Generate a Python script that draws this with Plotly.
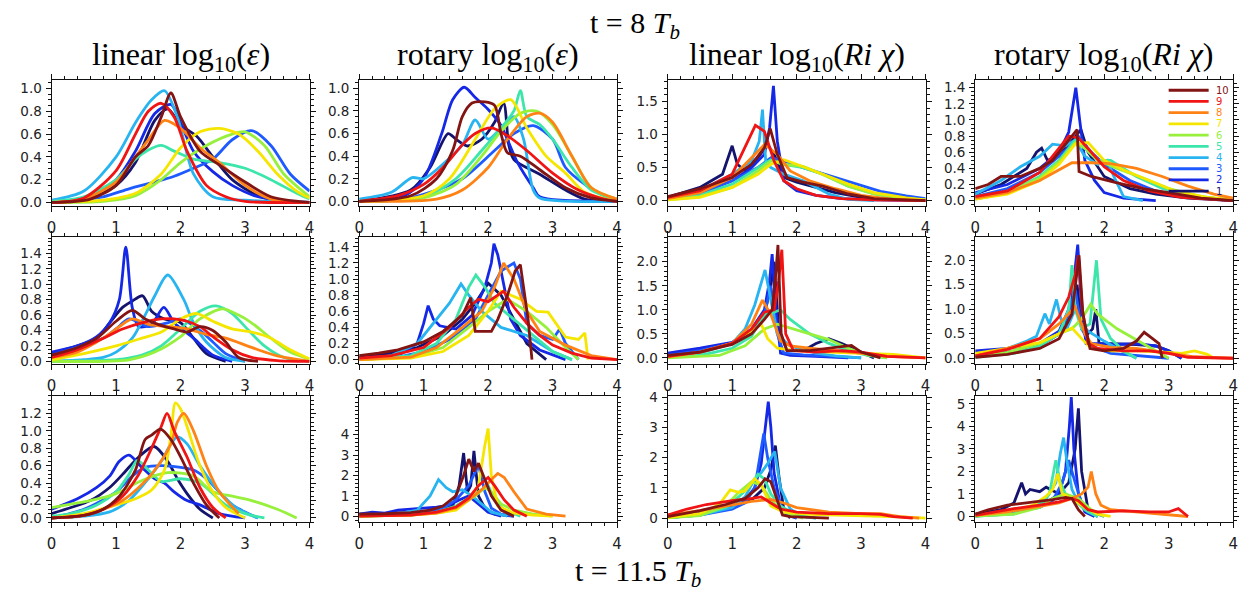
import plotly.graph_objects as go

# ---------------- data ----------------
curve_labels = ["1", "2", "3", "4", "5", "6", "7", "8", "9", "10"]
curve_colors = ["#14146e", "#1428e6", "#1e5aff", "#28b4f0", "#3ce6aa",
                "#96f03c", "#f5e600", "#ff8214", "#f01414", "#821414"]
x_ticks = [0, 1, 2, 3, 4]
col_titles = ["linear log<sub>10</sub>(<i>ε</i>)", "rotary log<sub>10</sub>(<i>ε</i>)",
              "linear log<sub>10</sub>(<i>Ri χ</i>)", "rotary log<sub>10</sub>(<i>Ri χ</i>)"]
top_title = "t = 8 <i>T<sub>b</sub></i>"
bottom_title = "t = 11.5 <i>T<sub>b</sub></i>"

# row 1 (t = 8 Tb)
lin_eps_r1 = {
    1: ([0, 0.5, 1.0, 1.3, 1.6, 1.8, 2.0, 2.25, 2.5, 2.8, 3.2, 3.6, 4], [0, 0.02, 0.15, 0.35, 0.72, 0.82, 0.68, 0.58, 0.4, 0.2, 0.06, 0.01, 0]),
    2: ([0, 0.5, 1.0, 1.3, 1.6, 1.85, 2.0, 2.2, 2.5, 2.8, 3.2, 4], [0, 0.03, 0.2, 0.45, 0.78, 0.86, 0.7, 0.45, 0.27, 0.15, 0.05, 0]),
    3: ([0, 0.8, 1.2, 1.6, 1.9, 2.2, 2.5, 2.8, 3.1, 3.4, 3.7, 4], [0, 0.05, 0.12, 0.18, 0.23, 0.3, 0.38, 0.55, 0.63, 0.5, 0.25, 0.1]),
    4: ([0, 0.5, 1.0, 1.3, 1.55, 1.75, 1.95, 2.2, 2.5, 3, 4], [0.02, 0.1, 0.4, 0.7, 0.9, 0.98, 0.75, 0.25, 0.05, 0.02, 0]),
    5: ([0, 0.5, 1.0, 1.3, 1.5, 1.7, 1.9, 2.2, 2.6, 3.0, 3.4, 3.8, 4], [0.01, 0.05, 0.2, 0.38, 0.46, 0.5, 0.45, 0.38, 0.35, 0.3, 0.2, 0.08, 0.03]),
    6: ([0, 0.8, 1.3, 1.7, 2.0, 2.4, 2.8, 3.0, 3.3, 3.6, 4], [0, 0.01, 0.06, 0.2, 0.35, 0.5, 0.6, 0.62, 0.5, 0.25, 0.05]),
    7: ([0, 0.8, 1.3, 1.7, 2.0, 2.3, 2.6, 2.9, 3.2, 3.5, 3.8, 4], [0, 0.02, 0.08, 0.25, 0.48, 0.62, 0.65, 0.6, 0.45, 0.25, 0.1, 0.04]),
    8: ([0, 0.5, 1.0, 1.3, 1.5, 1.75, 2.0, 2.3, 2.6, 3.0, 3.4, 4], [0, 0.03, 0.18, 0.4, 0.55, 0.72, 0.65, 0.48, 0.35, 0.15, 0.03, 0]),
    9: ([0, 0.5, 1.0, 1.3, 1.5, 1.7, 1.9, 2.1, 2.4, 2.7, 3.0, 4], [0, 0.04, 0.28, 0.6, 0.8, 0.87, 0.75, 0.45, 0.15, 0.05, 0.01, 0]),
    10: ([0, 0.6, 1.0, 1.3, 1.5, 1.7, 1.85, 2.0, 2.3, 2.6, 3.0, 3.4, 4], [0, 0.03, 0.15, 0.4, 0.5, 0.75, 0.96, 0.75, 0.45, 0.33, 0.18, 0.05, 0]),
}
rot_eps_r1 = {
    1: ([0, 0.8, 1.1, 1.38, 1.5, 1.68, 1.9, 2.1, 2.24, 2.32, 2.4, 2.8, 3.2, 3.5, 4], [0, 0.1, 0.3, 0.6, 0.55, 0.49, 0.55, 0.7, 0.87, 0.5, 0.37, 0.24, 0.1, 0.02, 0]),
    2: ([0, 0.7, 1.0, 1.28, 1.45, 1.63, 1.8, 1.99, 2.19, 2.45, 2.7, 2.8, 4], [0, 0.05, 0.2, 0.6, 0.9, 1.01, 0.92, 0.82, 0.68, 0.35, 0.12, 0.04, 0]),
    3: ([0, 0.7, 1.2, 1.6, 2.1, 2.4, 2.7, 3.0, 3.2, 3.5, 3.8, 4], [0, 0.02, 0.1, 0.2, 0.45, 0.6, 0.67, 0.55, 0.3, 0.15, 0.05, 0.01]),
    4: ([0, 0.5, 0.82, 1.0, 1.3, 1.6, 1.8, 2.0, 2.2, 2.4, 2.55, 2.7, 2.8, 4], [0.02, 0.08, 0.21, 0.2, 0.33, 0.5, 0.72, 0.55, 0.65, 0.75, 0.55, 0.1, 0.03, 0]),
    5: ([0, 1.0, 1.5, 1.9, 2.2, 2.4, 2.5, 2.6, 2.8, 3.0, 3.3, 3.6, 4], [0, 0.04, 0.2, 0.45, 0.65, 0.8, 0.98, 0.75, 0.68, 0.55, 0.3, 0.1, 0.02]),
    6: ([0, 1.0, 1.5, 1.9, 2.2, 2.5, 2.75, 3.0, 3.3, 3.6, 4], [0, 0.03, 0.15, 0.4, 0.62, 0.78, 0.8, 0.68, 0.4, 0.12, 0.02]),
    7: ([0, 1.0, 1.4, 1.8, 2.1, 2.35, 2.6, 2.9, 3.2, 3.5, 4], [0, 0.05, 0.2, 0.55, 0.82, 0.9, 0.65, 0.4, 0.25, 0.08, 0]),
    8: ([0, 1.2, 1.6, 2.0, 2.3, 2.6, 2.8, 3.0, 3.3, 3.6, 4], [0, 0.02, 0.1, 0.3, 0.55, 0.75, 0.78, 0.7, 0.4, 0.12, 0.02]),
    9: ([0, 0.6, 1.0, 1.3, 1.6, 1.8, 2.05, 2.3, 2.6, 3.0, 3.4, 3.8, 4], [0, 0.05, 0.15, 0.3, 0.5, 0.6, 0.65, 0.58, 0.45, 0.25, 0.1, 0.02, 0]),
    10: ([0, 0.8, 1.2, 1.45, 1.6, 1.75, 1.95, 2.1, 2.2, 2.3, 2.5, 2.8, 3.2, 3.6, 4], [0, 0.05, 0.2, 0.45, 0.75, 0.87, 0.88, 0.85, 0.6, 0.43, 0.4, 0.28, 0.12, 0.03, 0]),
}
lin_chi_r1 = {
    1: ([0, 0.5, 0.85, 0.95, 1.0, 1.08, 1.2, 1.4, 1.55, 1.65, 1.8, 2.0, 2.3, 2.6, 3.0, 3.5, 4], [0.05, 0.2, 0.4, 0.7, 0.83, 0.55, 0.45, 0.65, 0.85, 0.7, 0.35, 0.28, 0.2, 0.12, 0.05, 0.02, 0]),
    2: ([0, 0.5, 1.0, 1.3, 1.5, 1.58, 1.64, 1.7, 1.8, 2.0, 2.3, 2.7, 3.2, 4], [0.03, 0.12, 0.3, 0.5, 0.7, 1.1, 1.74, 0.9, 0.3, 0.15, 0.08, 0.03, 0.01, 0]),
    3: ([0, 0.5, 1.0, 1.4, 1.6, 1.8, 2.1, 2.5, 2.9, 3.3, 3.7, 4], [0.03, 0.1, 0.3, 0.5, 0.65, 0.6, 0.5, 0.38, 0.25, 0.14, 0.07, 0.03]),
    4: ([0, 0.5, 1.0, 1.3, 1.42, 1.47, 1.52, 1.6, 1.8, 2.1, 2.5, 2.8, 3.2], [0.05, 0.15, 0.4, 0.6, 0.9, 1.38, 0.6, 0.5, 0.4, 0.3, 0.1, 0.02, 0]),
    5: ([0, 0.5, 1.0, 1.4, 1.6, 1.8, 2.1, 2.4, 2.8, 3.2, 3.7, 4], [0.02, 0.08, 0.25, 0.5, 0.62, 0.55, 0.5, 0.4, 0.22, 0.1, 0.03, 0.01]),
    6: ([0, 0.5, 1.0, 1.4, 1.6, 1.8, 2.1, 2.4, 2.8, 3.2, 3.7, 4], [0.01, 0.06, 0.2, 0.45, 0.6, 0.55, 0.52, 0.4, 0.22, 0.1, 0.03, 0.01]),
    7: ([0, 0.5, 1.0, 1.4, 1.6, 1.8, 2.0, 2.4, 2.8, 3.2, 3.7, 4], [0.01, 0.05, 0.2, 0.4, 0.55, 0.62, 0.55, 0.4, 0.25, 0.12, 0.04, 0.01]),
    8: ([0, 0.5, 1.0, 1.3, 1.5, 1.7, 1.9, 2.2, 2.6, 3.0, 3.5, 4], [0.03, 0.12, 0.35, 0.65, 0.85, 0.7, 0.45, 0.3, 0.18, 0.08, 0.02, 0]),
    9: ([0, 0.5, 1.0, 1.2, 1.36, 1.5, 1.65, 1.8, 2.0, 2.3, 2.7, 3.2, 4], [0.05, 0.15, 0.4, 0.8, 1.14, 1.05, 0.6, 0.3, 0.18, 0.08, 0.03, 0.01, 0]),
    10: ([0, 0.5, 1.0, 1.3, 1.5, 1.59, 1.7, 1.85, 2.1, 2.4, 2.8, 3.2, 4], [0.06, 0.18, 0.35, 0.55, 0.8, 1.09, 0.7, 0.35, 0.28, 0.22, 0.1, 0.03, 0]),
}
rot_chi_r1 = {
    1: ([0, 0.4, 0.8, 0.95, 1.03, 1.12, 1.3, 1.5, 1.64, 1.75, 2.0, 2.4, 2.8, 3.3, 4], [0.08, 0.2, 0.4, 0.6, 0.65, 0.5, 0.55, 0.75, 0.88, 0.6, 0.3, 0.15, 0.08, 0.03, 0]),
    2: ([0, 0.5, 1.0, 1.3, 1.45, 1.52, 1.56, 1.62, 1.7, 1.85, 2.0, 2.3, 2.8], [0.1, 0.2, 0.4, 0.6, 0.85, 1.2, 1.4, 1.0, 0.5, 0.25, 0.1, 0.03, 0]),
    3: ([0, 0.5, 1.0, 1.3, 1.5, 1.6, 1.8, 2.0, 2.4, 2.8, 3.2, 4], [0.05, 0.15, 0.35, 0.55, 0.7, 0.8, 0.6, 0.45, 0.25, 0.12, 0.05, 0]),
    4: ([0, 0.4, 0.7, 1.0, 1.2, 1.4, 1.55, 1.7, 1.9, 2.05, 2.15, 2.3, 2.6], [0.08, 0.25, 0.42, 0.55, 0.7, 0.68, 0.75, 0.55, 0.45, 0.5, 0.3, 0.05, 0]),
    5: ([0, 0.5, 1.0, 1.3, 1.55, 1.7, 1.9, 2.1, 2.5, 2.9, 3.4, 4], [0.02, 0.1, 0.3, 0.5, 0.75, 0.65, 0.5, 0.5, 0.3, 0.15, 0.05, 0.01]),
    6: ([0, 0.5, 1.0, 1.3, 1.55, 1.7, 1.9, 2.2, 2.6, 3.0, 3.5, 4], [0.02, 0.1, 0.28, 0.48, 0.72, 0.65, 0.5, 0.4, 0.28, 0.15, 0.05, 0.01]),
    7: ([0, 0.5, 1.0, 1.3, 1.55, 1.75, 2.0, 2.3, 2.7, 3.1, 3.6, 4], [0.02, 0.08, 0.25, 0.45, 0.7, 0.72, 0.5, 0.38, 0.25, 0.12, 0.04, 0.01]),
    8: ([0, 0.5, 1.0, 1.3, 1.5, 1.8, 2.1, 2.5, 2.9, 3.3, 3.7, 4], [0.03, 0.1, 0.25, 0.38, 0.47, 0.47, 0.46, 0.4, 0.3, 0.18, 0.08, 0.03]),
    9: ([0, 0.5, 1.0, 1.25, 1.45, 1.6, 1.8, 2.0, 2.3, 2.7, 3.2, 4], [0.05, 0.12, 0.35, 0.6, 0.8, 0.78, 0.6, 0.42, 0.25, 0.12, 0.04, 0]),
    10: ([0, 0.2, 0.4, 0.7, 1.0, 1.2, 1.45, 1.58, 1.61, 1.8, 2.2, 2.6, 3.0, 3.5, 4], [0.15, 0.2, 0.3, 0.3, 0.4, 0.5, 0.75, 0.88, 0.36, 0.3, 0.22, 0.15, 0.1, 0.03, 0]),
}

# row 2
lin_eps_r2 = {
    1: ([0, 0.4, 0.7, 0.9, 1.1, 1.25, 1.41, 1.55, 1.75, 2.0, 2.2, 2.4, 2.7], [0.1, 0.2, 0.3, 0.5, 0.7, 0.78, 0.85, 0.65, 0.55, 0.5, 0.3, 0.1, 0]),
    2: ([0, 0.4, 0.7, 0.9, 1.05, 1.15, 1.25, 1.35, 1.55, 1.74, 1.9, 2.2, 2.5, 2.8], [0.12, 0.2, 0.32, 0.5, 0.8, 1.48, 0.7, 0.45, 0.48, 0.7, 0.5, 0.3, 0.08, 0]),
    3: ([0, 0.4, 0.8, 1.0, 1.2, 1.5, 1.8, 2.0, 2.3, 2.5, 2.7, 3.0], [0.08, 0.18, 0.3, 0.42, 0.55, 0.45, 0.5, 0.55, 0.4, 0.25, 0.1, 0]),
    4: ([0, 0.5, 0.8, 1.0, 1.25, 1.45, 1.6, 1.8, 2.05, 2.2, 2.4, 2.7, 3.0], [0, 0.02, 0.05, 0.12, 0.3, 0.6, 0.85, 1.12, 0.8, 0.5, 0.25, 0.05, 0]),
    5: ([0, 1.0, 1.4, 1.7, 2.0, 2.3, 2.55, 2.8, 3.0, 3.3, 3.6, 4], [0, 0.02, 0.08, 0.2, 0.42, 0.65, 0.72, 0.62, 0.45, 0.2, 0.05, 0]),
    6: ([0, 1.2, 1.6, 2.0, 2.3, 2.65, 2.9, 3.1, 3.4, 3.7, 4], [0, 0.02, 0.12, 0.32, 0.55, 0.68, 0.6, 0.5, 0.3, 0.12, 0.03]),
    7: ([0, 0.5, 1.0, 1.4, 1.7, 2.0, 2.25, 2.5, 2.8, 3.1, 3.4, 3.7, 4], [0.02, 0.1, 0.2, 0.3, 0.38, 0.55, 0.62, 0.52, 0.42, 0.38, 0.3, 0.15, 0.03]),
    8: ([0, 0.4, 0.8, 1.05, 1.25, 1.5, 1.8, 2.1, 2.4, 2.7, 3.1, 3.5, 4], [0.05, 0.12, 0.3, 0.45, 0.55, 0.48, 0.45, 0.42, 0.35, 0.3, 0.18, 0.07, 0]),
    9: ([0, 0.4, 0.8, 1.1, 1.4, 1.7, 1.9, 2.1, 2.3, 2.5, 2.8, 3.1, 3.5, 4], [0.05, 0.15, 0.3, 0.42, 0.5, 0.55, 0.55, 0.52, 0.45, 0.32, 0.15, 0.05, 0.01, 0]),
    10: ([0, 0.4, 0.7, 1.0, 1.25, 1.45, 1.65, 1.9, 2.1, 2.3, 2.5, 2.7, 2.9, 3.2], [0.08, 0.18, 0.3, 0.52, 0.66, 0.55, 0.48, 0.42, 0.38, 0.45, 0.4, 0.25, 0.05, 0]),
}
rot_eps_r2 = {
    1: ([0, 0.5, 0.9, 1.3, 1.6, 1.8, 2.0, 2.2, 2.4, 2.6, 2.9], [0.02, 0.08, 0.15, 0.3, 0.5, 0.7, 0.95, 0.8, 0.5, 0.2, 0]),
    2: ([0, 0.6, 0.9, 1.0, 1.07, 1.15, 1.25, 1.5, 1.75, 1.95, 2.05, 2.09, 2.15, 2.25, 2.35, 2.5, 2.8, 3.2], [0, 0.05, 0.2, 0.45, 0.67, 0.5, 0.42, 0.38, 0.55, 0.9, 1.2, 1.44, 1.3, 0.9, 0.5, 0.3, 0.12, 0]),
    3: ([0, 0.6, 1.0, 1.4, 1.8, 2.0, 2.2, 2.4, 2.5, 2.6, 2.8, 3.0, 3.11, 3.2, 3.4], [0, 0.03, 0.1, 0.25, 0.5, 0.8, 1.1, 1.2, 1.0, 0.45, 0.3, 0.25, 0.38, 0.2, 0]),
    4: ([0, 0.5, 0.9, 1.2, 1.4, 1.58, 1.7, 1.9, 2.2, 2.6, 3.0, 3.3], [0, 0.05, 0.2, 0.5, 0.7, 0.94, 0.8, 0.6, 0.4, 0.3, 0.1, 0]),
    5: ([0, 0.8, 1.2, 1.5, 1.7, 1.81, 1.95, 2.1, 2.4, 2.7, 3.0, 3.3], [0, 0.05, 0.2, 0.5, 0.9, 1.05, 0.9, 0.7, 0.5, 0.3, 0.1, 0]),
    6: ([0, 0.8, 1.3, 1.7, 2.0, 2.3, 2.6, 2.9, 3.2, 3.4], [0, 0.03, 0.15, 0.4, 0.6, 0.75, 0.6, 0.4, 0.15, 0]),
    7: ([0, 0.8, 1.3, 1.7, 2.0, 2.2, 2.5, 2.75, 2.93, 3.05, 3.2, 3.4, 3.5, 3.55], [0, 0.02, 0.1, 0.3, 0.6, 0.85, 0.75, 0.6, 0.59, 0.45, 0.28, 0.25, 0.33, 0]),
    8: ([0, 0.8, 1.2, 1.6, 1.9, 2.1, 2.24, 2.4, 2.6, 2.8, 3.2, 3.6, 4], [0, 0.03, 0.15, 0.4, 0.6, 0.9, 1.2, 1.0, 0.6, 0.35, 0.18, 0.05, 0]),
    9: ([0, 0.5, 1.0, 1.4, 1.7, 1.85, 2.0, 2.24, 2.4, 2.6, 2.8, 3.0, 3.3, 3.6, 4], [0.02, 0.05, 0.15, 0.4, 0.65, 0.75, 0.72, 0.85, 0.65, 0.45, 0.3, 0.18, 0.08, 0.02, 0]),
    10: ([0, 0.3, 0.6, 1.0, 1.3, 1.6, 1.73, 1.8, 2.05, 2.15, 2.3, 2.42, 2.5, 2.56, 2.62, 2.68], [0.05, 0.08, 0.12, 0.22, 0.35, 0.55, 0.77, 0.35, 0.35, 0.5, 0.8, 1.1, 1.18, 0.85, 0.5, 0]),
}
lin_chi_r2 = {
    1: ([0, 0.5, 1.0, 1.3, 1.5, 1.6, 1.65, 1.72, 1.85, 2.1, 2.3, 2.5, 2.7, 2.9, 3.2], [0.08, 0.15, 0.3, 0.55, 0.9, 1.5, 2.0, 0.6, 0.15, 0.15, 0.3, 0.4, 0.3, 0.18, 0]),
    2: ([0, 0.5, 1.0, 1.3, 1.5, 1.58, 1.62, 1.68, 1.75, 1.9, 2.3, 2.8], [0.1, 0.2, 0.32, 0.6, 1.0, 1.6, 2.16, 1.0, 0.1, 0.05, 0.03, 0]),
    3: ([0, 0.5, 1.0, 1.3, 1.5, 1.6, 1.7, 1.8, 2.1, 2.5, 3.0], [0.05, 0.15, 0.3, 0.55, 0.9, 1.5, 0.5, 0.1, 0.06, 0.03, 0]),
    4: ([0, 0.5, 1.0, 1.2, 1.35, 1.51, 1.6, 1.7, 1.85, 2.0, 2.3, 2.6, 3.0], [0.02, 0.1, 0.3, 0.6, 1.1, 1.83, 1.2, 0.5, 0.3, 0.2, 0.1, 0.04, 0]),
    5: ([0, 0.6, 1.0, 1.3, 1.5, 1.65, 1.75, 1.9, 2.2, 2.5, 2.8, 3.1, 3.4], [0.01, 0.08, 0.2, 0.45, 0.9, 0.95, 1.0, 0.8, 0.5, 0.3, 0.15, 0.05, 0]),
    6: ([0, 0.8, 1.2, 1.5, 1.7, 1.9, 2.2, 2.5, 2.8, 3.1, 3.4], [0, 0.05, 0.25, 0.6, 0.7, 0.62, 0.5, 0.38, 0.2, 0.06, 0]),
    7: ([0, 0.5, 1.0, 1.3, 1.45, 1.55, 1.7, 2.0, 2.5, 3.0, 3.5, 4], [0.02, 0.12, 0.3, 0.55, 0.7, 0.4, 0.2, 0.15, 0.12, 0.1, 0.07, 0]),
    8: ([0, 0.5, 1.0, 1.3, 1.47, 1.6, 1.75, 1.9, 2.2, 2.6, 3.0, 3.4, 4], [0.02, 0.12, 0.3, 0.7, 1.2, 0.9, 0.35, 0.25, 0.2, 0.15, 0.1, 0.03, 0]),
    9: ([0, 0.5, 1.0, 1.3, 1.5, 1.65, 1.72, 1.77, 1.83, 1.95, 2.3, 2.7, 3.0, 3.4, 4], [0.03, 0.12, 0.3, 0.6, 0.95, 1.0, 1.6, 2.25, 0.5, 0.15, 0.12, 0.15, 0.12, 0.03, 0]),
    10: ([0, 0.5, 1.0, 1.3, 1.5, 1.62, 1.68, 1.71, 1.76, 1.85, 2.2, 2.5, 2.85, 3.0, 3.3], [0.05, 0.12, 0.28, 0.5, 0.8, 1.0, 1.8, 2.35, 0.5, 0.15, 0.15, 0.2, 0.26, 0.12, 0]),
}
rot_chi_r2 = {
    1: ([0, 0.5, 1.0, 1.3, 1.5, 1.58, 1.65, 1.75, 1.82, 1.87, 1.92, 2.1, 2.5, 2.8, 3.0, 3.2], [0.05, 0.12, 0.25, 0.5, 0.9, 1.5, 0.6, 0.5, 0.6, 1.0, 0.3, 0.3, 0.28, 0.25, 0.15, 0]),
    2: ([0, 0.5, 1.0, 1.3, 1.45, 1.53, 1.59, 1.65, 1.72, 1.9, 2.2, 2.5, 2.8, 3.0, 3.2], [0.15, 0.2, 0.3, 0.55, 1.0, 1.6, 2.32, 1.0, 0.3, 0.3, 0.28, 0.3, 0.25, 0.15, 0]),
    3: ([0, 0.5, 1.0, 1.3, 1.45, 1.55, 1.65, 1.8, 2.1, 2.5, 3.0], [0.05, 0.12, 0.25, 0.5, 0.9, 1.4, 0.6, 0.25, 0.1, 0.05, 0]),
    4: ([0, 0.4, 0.8, 0.95, 1.08, 1.15, 1.26, 1.33, 1.42, 1.55, 1.65, 1.75, 2.0, 2.2, 2.5], [0.05, 0.15, 0.35, 0.45, 0.91, 0.7, 1.2, 0.8, 0.6, 1.0, 0.7, 0.55, 0.35, 0.2, 0]),
    5: ([0, 0.6, 1.0, 1.3, 1.45, 1.5, 1.55, 1.65, 1.78, 1.88, 1.95, 2.1, 2.3, 2.5], [0.02, 0.1, 0.25, 0.5, 1.0, 1.9, 1.0, 0.6, 0.7, 2.0, 0.8, 0.4, 0.15, 0]),
    6: ([0, 0.5, 1.0, 1.3, 1.5, 1.65, 1.79, 1.9, 2.2, 2.6, 3.0], [0.05, 0.12, 0.3, 0.5, 0.6, 0.8, 1.1, 0.9, 0.6, 0.3, 0]),
    7: ([0, 0.5, 1.0, 1.3, 1.5, 1.65, 1.8, 2.1, 2.5, 3.0, 3.2, 3.4, 3.6, 3.7], [0.1, 0.2, 0.32, 0.5, 0.62, 0.4, 0.2, 0.15, 0.15, 0.12, 0.1, 0.15, 0.08, 0]),
    8: ([0, 0.5, 1.0, 1.3, 1.55, 1.7, 1.8, 2.1, 2.5, 3.0, 3.4, 4], [0.05, 0.2, 0.4, 0.7, 1.05, 0.5, 0.3, 0.22, 0.2, 0.1, 0.03, 0]),
    9: ([0, 0.5, 1.0, 1.3, 1.45, 1.55, 1.6, 1.66, 1.75, 1.9, 2.3, 2.7, 3.0, 3.3, 4], [0.05, 0.18, 0.4, 0.85, 1.25, 1.7, 2.1, 1.0, 0.3, 0.2, 0.15, 0.15, 0.1, 0.02, 0]),
    10: ([0, 0.5, 1.0, 1.3, 1.5, 1.57, 1.61, 1.67, 1.78, 2.0, 2.3, 2.5, 2.62, 2.75, 2.85, 2.9], [0.02, 0.08, 0.2, 0.4, 0.9, 1.6, 2.1, 0.9, 0.2, 0.15, 0.2, 0.35, 0.53, 0.4, 0.3, 0]),
}

# row 3 (t = 11.5 Tb)
lin_eps_r3 = {
    1: ([0, 0.3, 0.6, 0.9, 1.1, 1.35, 1.59, 1.8, 1.95, 2.1, 2.3, 2.5], [0.05, 0.12, 0.2, 0.35, 0.5, 0.7, 0.82, 0.65, 0.45, 0.28, 0.1, 0]),
    2: ([0, 0.4, 0.7, 0.9, 1.05, 1.2, 1.4, 1.6, 1.75, 1.9, 2.1, 2.3, 2.6, 3.0], [0.1, 0.22, 0.35, 0.48, 0.65, 0.72, 0.58, 0.45, 0.4, 0.3, 0.2, 0.15, 0.05, 0]),
    3: ([0, 0.5, 1.0, 1.25, 1.45, 1.7, 2.0, 2.2, 2.4, 2.6, 2.8, 3.2], [0, 0.1, 0.3, 0.48, 0.58, 0.6, 0.58, 0.55, 0.45, 0.3, 0.15, 0]),
    4: ([0, 0.5, 0.9, 1.2, 1.5, 1.7, 1.85, 1.95, 2.1, 2.3, 2.6, 2.9, 3.2], [0, 0.02, 0.07, 0.2, 0.45, 0.65, 0.85, 0.93, 0.85, 0.6, 0.3, 0.1, 0]),
    5: ([0, 0.3, 0.7, 1.0, 1.2, 1.33, 1.5, 1.7, 2.0, 2.3, 2.7, 3.0, 3.3], [0.02, 0.05, 0.15, 0.3, 0.5, 0.66, 0.55, 0.42, 0.45, 0.4, 0.15, 0.05, 0]),
    6: ([0, 0.3, 0.6, 1.0, 1.4, 1.8, 2.2, 2.5, 2.8, 3.1, 3.5, 3.8], [0.12, 0.16, 0.2, 0.28, 0.43, 0.52, 0.48, 0.3, 0.25, 0.2, 0.1, 0]),
    7: ([0, 0.5, 1.0, 1.3, 1.55, 1.75, 1.85, 1.92, 2.0, 2.1, 2.3, 2.5, 2.7, 3.0], [0, 0.05, 0.15, 0.22, 0.32, 0.55, 0.95, 1.32, 1.25, 1.05, 0.6, 0.3, 0.12, 0]),
    8: ([0, 0.5, 0.8, 1.1, 1.35, 1.6, 1.85, 1.95, 2.05, 2.2, 2.4, 2.6, 2.9], [0, 0.03, 0.1, 0.2, 0.35, 0.55, 0.85, 1.1, 1.2, 1.0, 0.6, 0.3, 0.05]),
    9: ([0, 0.5, 0.8, 1.1, 1.35, 1.55, 1.7, 1.79, 1.9, 2.1, 2.3, 2.5, 2.7], [0, 0.03, 0.1, 0.25, 0.5, 0.8, 1.05, 1.2, 1.0, 0.7, 0.35, 0.12, 0]),
    10: ([0, 0.5, 0.8, 1.05, 1.3, 1.45, 1.55, 1.69, 1.85, 2.0, 2.2, 2.4, 2.6], [0, 0.03, 0.1, 0.25, 0.55, 0.9, 0.95, 1.02, 0.9, 0.7, 0.4, 0.15, 0]),
}
rot_eps_r3 = {
    1: ([0, 0.5, 1.0, 1.3, 1.45, 1.55, 1.62, 1.68, 1.73, 1.78, 1.85, 1.95, 2.1, 2.4], [0.1, 0.15, 0.2, 0.35, 0.5, 1.5, 3.1, 1.2, 1.5, 3.2, 1.0, 0.4, 0.1, 0]),
    2: ([0, 0.2, 0.4, 0.6, 0.8, 1.0, 1.2, 1.4, 1.55, 1.7, 1.85, 2.0, 2.2], [0.1, 0.2, 0.15, 0.3, 0.35, 0.4, 0.45, 0.55, 0.8, 1.0, 0.6, 0.2, 0]),
    3: ([0, 0.5, 1.0, 1.3, 1.5, 1.7, 1.85, 1.95, 2.05, 2.2, 2.4], [0, 0.05, 0.2, 0.4, 0.8, 1.5, 2.5, 1.2, 0.4, 0.1, 0]),
    4: ([0, 0.5, 0.9, 1.1, 1.23, 1.35, 1.45, 1.6, 1.75, 1.9, 2.05, 2.3], [0, 0.05, 0.3, 1.0, 1.8, 1.4, 1.2, 1.3, 1.0, 0.6, 0.2, 0]),
    5: ([0, 0.8, 1.2, 1.5, 1.7, 1.85, 2.0, 2.1, 2.25, 2.5], [0, 0.05, 0.2, 0.5, 0.9, 1.2, 1.5, 0.8, 0.3, 0]),
    6: ([0, 0.8, 1.3, 1.6, 1.8, 1.95, 2.05, 2.2, 2.4, 2.7, 3.0], [0, 0.05, 0.2, 0.6, 1.0, 1.4, 1.2, 0.6, 0.3, 0.1, 0]),
    7: ([0, 0.8, 1.2, 1.5, 1.7, 1.85, 1.95, 2.0, 2.05, 2.15, 2.4, 2.7, 3.0], [0, 0.05, 0.15, 0.3, 0.8, 1.5, 3.5, 4.3, 2.0, 0.5, 0.15, 0.05, 0]),
    8: ([0, 0.8, 1.2, 1.5, 1.7, 1.9, 2.05, 2.15, 2.25, 2.4, 2.6, 2.9, 3.2], [0, 0.05, 0.15, 0.4, 0.8, 1.3, 1.8, 2.1, 1.9, 1.2, 0.35, 0.1, 0]),
    9: ([0, 0.8, 1.2, 1.5, 1.7, 1.85, 2.0, 2.1, 2.25, 2.4, 2.6], [0, 0.05, 0.2, 0.45, 0.9, 1.5, 1.9, 1.5, 0.8, 0.3, 0]),
    10: ([0, 0.4, 0.8, 1.1, 1.3, 1.5, 1.62, 1.7, 1.78, 1.85, 1.95, 2.05, 2.2, 2.4], [0.1, 0.12, 0.18, 0.3, 0.5, 1.0, 2.0, 2.8, 2.2, 2.6, 1.8, 1.0, 0.3, 0]),
}
lin_chi_r3 = {
    1: ([0, 0.5, 1.0, 1.3, 1.5, 1.6, 1.67, 1.73, 1.8, 1.9], [0.05, 0.15, 0.35, 0.6, 1.0, 1.6, 2.4, 1.3, 0.3, 0]),
    2: ([0, 0.5, 0.8, 1.0, 1.2, 1.35, 1.45, 1.52, 1.56, 1.6, 1.65, 1.75, 1.85, 2.0], [0.05, 0.15, 0.25, 0.4, 0.6, 1.0, 1.8, 3.0, 3.85, 3.0, 1.5, 0.4, 0.1, 0]),
    3: ([0, 0.5, 1.0, 1.2, 1.35, 1.43, 1.49, 1.55, 1.65, 1.8, 2.0], [0.02, 0.1, 0.3, 0.5, 1.0, 2.0, 2.8, 2.0, 1.0, 0.2, 0]),
    4: ([0, 0.5, 1.0, 1.2, 1.35, 1.45, 1.55, 1.66, 1.75, 1.9, 2.1, 2.3], [0.02, 0.1, 0.35, 0.7, 1.3, 1.5, 1.8, 2.2, 1.0, 0.3, 0.05, 0]),
    5: ([0, 0.5, 0.9, 1.1, 1.25, 1.4, 1.5, 1.6, 1.75, 2.0, 2.3], [0.02, 0.1, 0.35, 0.7, 1.0, 1.45, 1.3, 0.8, 0.4, 0.1, 0]),
    6: ([0, 0.5, 0.9, 1.1, 1.3, 1.45, 1.6, 1.8, 2.1], [0.01, 0.08, 0.4, 0.85, 1.2, 1.1, 0.6, 0.2, 0]),
    7: ([0, 0.5, 0.8, 0.97, 1.1, 1.2, 1.35, 1.45, 1.6, 1.8, 2.2, 3.0, 3.6, 4], [0.02, 0.15, 0.45, 0.93, 0.85, 0.9, 1.3, 1.1, 0.4, 0.2, 0.12, 0.08, 0.04, 0]),
    8: ([0, 0.5, 0.9, 1.3, 1.6, 1.8, 2.0, 2.5, 3.0, 3.3, 3.6, 3.9], [0.1, 0.25, 0.4, 0.55, 0.62, 0.5, 0.35, 0.2, 0.15, 0.15, 0.05, 0]),
    9: ([0, 0.3, 0.6, 1.0, 1.3, 1.45, 1.6, 1.75, 2.0, 2.5, 3.0, 3.3, 3.5, 3.8], [0.1, 0.3, 0.45, 0.58, 0.65, 0.7, 0.5, 0.3, 0.2, 0.15, 0.15, 0.12, 0.05, 0]),
    10: ([0, 0.5, 0.9, 1.2, 1.4, 1.51, 1.6, 1.68, 1.78, 1.9, 2.2, 2.5], [0.05, 0.25, 0.45, 0.65, 1.0, 1.3, 1.2, 0.7, 0.1, 0.05, 0.03, 0]),
}
rot_chi_r3 = {
    1: ([0, 0.4, 0.6, 0.68, 0.72, 0.78, 0.85, 1.0, 1.1, 1.3, 1.45, 1.55, 1.6, 1.65, 1.75, 1.9], [0.1, 0.3, 0.6, 1.2, 1.5, 1.0, 1.2, 1.1, 1.3, 1.0, 1.5, 3.0, 4.8, 2.0, 0.3, 0]),
    2: ([0, 0.5, 0.9, 1.1, 1.3, 1.4, 1.46, 1.49, 1.53, 1.6, 1.7, 1.85], [0.05, 0.2, 0.4, 0.6, 1.0, 2.0, 4.0, 5.3, 3.0, 1.0, 0.2, 0]),
    3: ([0, 0.5, 1.0, 1.2, 1.35, 1.45, 1.55, 1.65, 1.8, 2.0], [0.02, 0.15, 0.4, 0.7, 1.5, 2.5, 1.5, 0.6, 0.2, 0]),
    4: ([0, 0.5, 0.9, 1.1, 1.25, 1.32, 1.37, 1.42, 1.5, 1.6, 1.75, 1.9], [0.02, 0.1, 0.4, 0.8, 1.5, 2.8, 3.5, 2.5, 1.2, 0.6, 0.2, 0]),
    5: ([0, 0.6, 1.0, 1.15, 1.25, 1.32, 1.4, 1.55, 1.7, 1.9], [0.02, 0.1, 0.5, 1.0, 2.5, 1.5, 1.0, 0.7, 0.3, 0]),
    6: ([0, 0.6, 1.0, 1.2, 1.4, 1.6, 1.8, 2.0], [0.02, 0.1, 0.4, 0.8, 1.0, 0.8, 0.3, 0]),
    7: ([0, 0.5, 0.9, 1.1, 1.2, 1.28, 1.35, 1.5, 1.7, 1.9, 2.1], [0.05, 0.2, 0.5, 0.9, 1.2, 1.9, 1.0, 0.8, 0.4, 0.1, 0]),
    8: ([0, 0.5, 1.0, 1.3, 1.5, 1.65, 1.75, 1.8, 1.87, 1.95, 2.1, 2.5, 3.0, 3.3], [0.05, 0.2, 0.45, 0.6, 0.8, 1.0, 1.3, 2.0, 1.0, 0.5, 0.3, 0.2, 0.1, 0]),
    9: ([0, 0.3, 0.6, 1.0, 1.3, 1.5, 1.6, 1.75, 1.9, 2.3, 2.7, 3.0, 3.15, 3.3], [0.05, 0.2, 0.35, 0.5, 0.65, 0.8, 0.7, 0.3, 0.2, 0.25, 0.2, 0.2, 0.35, 0]),
    10: ([0, 0.2, 0.5, 0.8, 1.0, 1.2, 1.4, 1.5, 1.6, 1.7], [0.1, 0.3, 0.5, 0.6, 0.7, 0.75, 0.85, 0.8, 0.3, 0]),
}

panel_data = [lin_eps_r1, rot_eps_r1, lin_chi_r1, rot_chi_r1,
              lin_eps_r2, rot_eps_r2, lin_chi_r2, rot_chi_r2,
              lin_eps_r3, rot_eps_r3, lin_chi_r3, rot_chi_r3]
y_ranges = [[-0.03, 1.07], [-0.04, 1.07], [-0.08, 1.82], [-0.065, 1.49],
            [-0.03, 1.61], [-0.05, 1.52], [-0.12, 2.51], [-0.11, 2.47],
            [-0.05, 1.40], [-0.3, 5.9], [-0.14, 4.04], [-0.26, 5.35]]
y_tickvals = [[0, 0.2, 0.4, 0.6, 0.8, 1.0], [0, 0.2, 0.4, 0.6, 0.8, 1.0], [0, 0.5, 1.0, 1.5], [0, 0.2, 0.4, 0.6, 0.8, 1.0, 1.2, 1.4],
              [0, 0.2, 0.4, 0.6, 0.8, 1.0, 1.2, 1.4], [0, 0.2, 0.4, 0.6, 0.8, 1.0, 1.2, 1.4], [0, 0.5, 1.0, 1.5, 2.0], [0, 0.5, 1.0, 1.5, 2.0],
              [0, 0.2, 0.4, 0.6, 0.8, 1.0, 1.2], [0, 1, 2, 3, 4], [0, 1, 2, 3, 4], [0, 1, 2, 3, 4, 5]]
y_minor = [0.05, 0.05, 0.1, 0.05, 0.05, 0.05, 0.1, 0.1, 0.05, 0.2, 0.2, 0.2]
y_fmt = [".1f"] * 9 + ["d", "d", "d"]
smooth_panels = {0, 1, 4, 8}

# ---------------- layout geometry ----------------
W, H = 1257, 592
col_left = [47, 357, 668, 978]
col_width = 260
row_top = [75, 235, 397]
row_bottom = [203, 364, 526]
x_tick_font = dict(family="DejaVu Sans, Verdana, sans-serif", size=15, color="#222")
y_tick_font = dict(family="DejaVu Sans, Verdana, sans-serif", size=13.5, color="#222")

fig = go.Figure()
layout_axes = {}
for k in range(12):
    r, c = divmod(k, 4)
    n = k + 1
    xa = "x" if n == 1 else f"x{n}"
    ya = "y" if n == 1 else f"y{n}"
    shape = "spline" if k in smooth_panels else "linear"
    for i in range(1, 11):
        xs, ys = panel_data[k][i]
        fig.add_trace(go.Scatter(
            x=xs, y=ys, mode="lines", name=curve_labels[i - 1],
            line=dict(color=curve_colors[i - 1], width=2.8, shape=shape, smoothing=0.8),
            xaxis=xa, yaxis=ya, showlegend=False, hoverinfo="skip"))
    xd = [col_left[c] / W, (col_left[c] + col_width) / W]
    yd = [1 - row_bottom[r] / H, 1 - row_top[r] / H]
    layout_axes[f"xaxis{'' if n == 1 else n}"] = dict(
        domain=xd, anchor=ya, range=[0, 4], tickvals=x_ticks, ticktext=[str(t) for t in x_ticks],
        showline=True, linecolor="#111", linewidth=1.2, mirror="ticks",
        ticks="outside", ticklen=5, tickcolor="#111", tickwidth=1,
        minor=dict(dtick=0.2, ticks="outside", ticklen=3, tickcolor="#111"),
        showgrid=False, zeroline=False, tickfont=x_tick_font, ticklabelstandoff=3)
    layout_axes[f"yaxis{'' if n == 1 else n}"] = dict(
        domain=yd, anchor=xa, range=y_ranges[k], tickvals=y_tickvals[k], tickformat=y_fmt[k],
        showline=True, linecolor="#111", linewidth=1.2, mirror="ticks",
        ticks="outside", ticklen=5, tickcolor="#111", tickwidth=1,
        minor=dict(dtick=y_minor[k], tick0=0, ticks="outside", ticklen=3, tickcolor="#111"),
        showgrid=False, zeroline=False, tickfont=y_tick_font, ticklabelstandoff=1)

fig.update_layout(**layout_axes)

# in-panel legend (top-right panel)
shapes, annos = [], []
for i in range(10):
    yy = 0.922 - (9 - i) * 0.0894
    shapes.append(dict(type="line", xref="x4 domain", yref="y4 domain",
                       x0=0.75, x1=0.905, y0=yy, y1=yy,
                       line=dict(color=curve_colors[i], width=2.8)))
    annos.append(dict(xref="x4 domain", yref="y4 domain", x=0.925, y=yy,
                      text=curve_labels[i], showarrow=False, xanchor="left", yanchor="middle",
                      font=dict(family="DejaVu Sans, Verdana, sans-serif", size=10, color=curve_colors[i])))

title_font = dict(family="Liberation Serif, Times New Roman, serif", size=32, color="#000")
bottom_font = dict(family="Liberation Serif, Times New Roman, serif", size=30, color="#000")
annos.append(dict(xref="paper", yref="paper", x=635 / W, y=1 - 18 / H, text=top_title,
                  showarrow=False, xanchor="center", yanchor="middle", font=bottom_font))
annos.append(dict(xref="paper", yref="paper", x=638 / W, y=1 - 578 / H, text=bottom_title,
                  showarrow=False, xanchor="center", yanchor="middle", font=bottom_font))
for c in range(4):
    annos.append(dict(xref="paper", yref="paper", x=(col_left[c] + col_width / 2) / W, y=1 - 51 / H,
                      text=col_titles[c], showarrow=False, xanchor="center", yanchor="middle",
                      font=title_font))

fig.update_layout(width=W, height=H, margin=dict(l=0, r=0, t=0, b=0),
                  paper_bgcolor="white", plot_bgcolor="white",
                  shapes=shapes, annotations=annos, showlegend=False)
fig.write_html("out.html")
